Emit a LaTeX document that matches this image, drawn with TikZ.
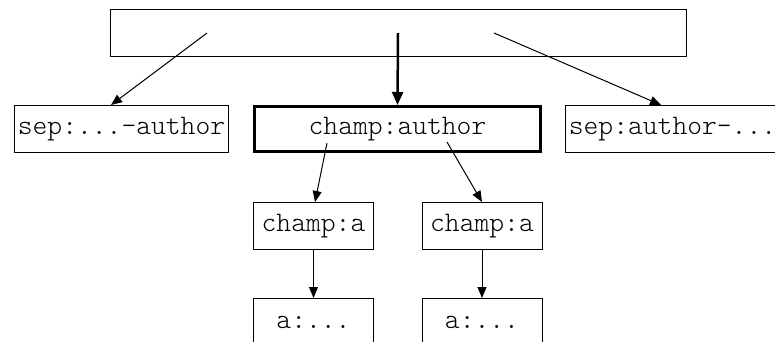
\documentclass[tikz,border=0pt]{standalone}
\usepackage{fontspec}
\setmonofont{Latin Modern Mono Light}
\usetikzlibrary{arrows.meta}
\tikzset{
  box/.style={draw, line width=1pt, minimum height=47pt, inner sep=1pt, font=\ttfamily\fontsize{28.2}{32}\selectfont},
  thinarr/.style={line width=1pt, -{Triangle[length=11pt,width=9pt]}},
  thickarr/.style={line width=2.5pt, -{Triangle[length=13pt,width=11pt]}}
}
\begin{document}
\begin{tikzpicture}[x=1pt,y=-1pt]
\useasboundingbox (0,0) rectangle (775,342);
\clip (0,0) rectangle (775,342);
\node[box, minimum width=576pt] (top) at (398.5,33) {};
\node[box, minimum width=214pt] (sepL) at (121.5,129) {sep:...-author};
\node[box, line width=3pt, minimum width=286pt, minimum height=45pt] (champ) at (397.5,129) {champ:author};
\node[box, minimum width=214pt] (sepR) at (672.5,129) {sep:author-...};
\node[box, minimum width=120pt] (ca1) at (313.5,226) {champ:a};
\node[box, minimum width=120pt] (ca2) at (482,226) {champ:a};
\node[box, minimum width=120pt] (a1) at (313.5,322) {a:...};
\node[box, minimum width=120pt] (a2) at (482,322) {a:...};
\coordinate (s1) at (207,33);
\coordinate (s2) at (398,33);
\coordinate (s3) at (494,33);
\coordinate (c1) at (327,143);
\coordinate (c2) at (447,142);
\draw[thinarr] (s1) -- ([xshift=-10.5pt]sepL.north);
\draw[thickarr] (s2) -- (champ.north);
\draw[thinarr] (s3) -- ([xshift=-11.5pt]sepR.north);
\draw[thinarr] (c1) -- ([xshift=1.5pt]ca1.north);
\draw[thinarr] (c2) -- (ca2.north);
\draw[thinarr] (ca1) -- (a1);
\draw[thinarr] (ca2) -- (a2);
\end{tikzpicture}
\end{document}
